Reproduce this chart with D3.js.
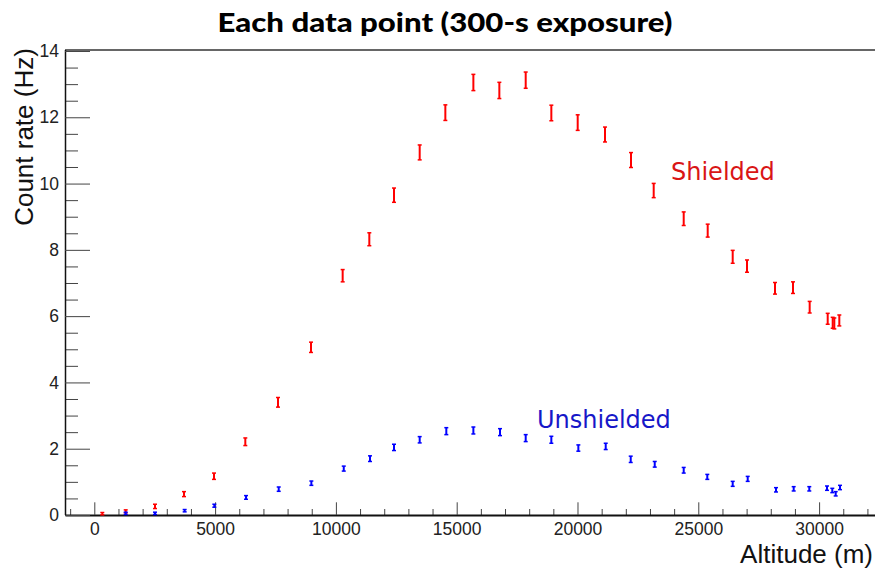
<!DOCTYPE html>
<html>
<head>
<meta charset="utf-8">
<script src="https://cdn.jsdelivr.net/npm/d3@7"></script>
<style>
  body { margin: 0; background: #fff; }
  svg { display: block; }
  .tick text { font-family: "Liberation Sans", Arial, sans-serif; font-size: 17.5px; fill: #222; }
</style>
</head>
<body>
<div id="graph-holder"></div>
<script>
// altitude (m), count rate (Hz) and error (Hz)
var shieldedAlt = [331, 1300, 2512, 3713, 4955, 6250, 7603, 8970, 10280, 11383, 12405,
  13468, 14530, 15690, 16765, 17856, 18917, 20008, 21138, 22215, 23154, 24396, 25389,
  26424, 27016, 28175, 28920, 29610, 30356, 30563, 30630, 30837];
var shieldedRate = [0.04, 0.11, 0.26, 0.63, 1.17, 2.21, 3.40, 5.06, 7.22, 8.32, 9.65,
  10.94, 12.14, 13.05, 12.81, 13.12, 12.13, 11.84, 11.48, 10.71, 9.79, 8.94, 8.58,
  7.79, 7.51, 6.84, 6.86, 6.27, 5.92, 5.80, 5.78, 5.87];
var shieldedErr = [0.02, 0.03, 0.05, 0.06, 0.08, 0.10, 0.13, 0.14, 0.17, 0.18, 0.2,
  0.21, 0.22, 0.23, 0.23, 0.23, 0.22, 0.22, 0.21, 0.21, 0.2, 0.19, 0.18,
  0.18, 0.17, 0.16, 0.16, 0.16, 0.15, 0.15, 0.15, 0.15];

var unshieldedAlt = [1300, 2512, 3740, 4968, 6280, 7633, 8984, 10325, 11412, 12405,
  13468, 14570, 15690, 16793, 17856, 18917, 20035, 21168, 22203, 23197, 24396, 25372,
  26424, 27045, 28216, 28948, 29594, 30327, 30546, 30687, 30865];
var unshieldedRate = [0.05, 0.05, 0.13, 0.28, 0.53, 0.78, 0.96, 1.40, 1.70, 2.04,
  2.27, 2.53, 2.55, 2.50, 2.32, 2.27, 2.02, 2.07, 1.68, 1.53, 1.35, 1.15,
  0.94, 1.09, 0.76, 0.79, 0.79, 0.81, 0.74, 0.64, 0.83];
var unshieldedErr = [0.02, 0.02, 0.02, 0.03, 0.04, 0.05, 0.05, 0.06, 0.07, 0.08,
  0.08, 0.09, 0.09, 0.09, 0.09, 0.09, 0.08, 0.08, 0.08, 0.07, 0.07, 0.06,
  0.06, 0.06, 0.05, 0.05, 0.05, 0.05, 0.05, 0.05, 0.05];

var xMajorTicks = [0, 5000, 10000, 15000, 20000, 25000, 30000];
var yMajorTicks = [0, 2, 4, 6, 8, 10, 12, 14];

var width = 875, height = 569;
var margin = { top: 50, right: 0, bottom: 54, left: 65 };

var svg = d3.select("#graph-holder")
  .append("svg")
  .attr("width", width)
  .attr("height", height);

var x = d3.scaleLinear().domain([-1213, 32314]).range([margin.left, width - margin.right]);
var y = d3.scaleLinear().domain([0, 14.03]).range([height - margin.bottom, margin.top]);

// title
svg.append("text")
  .attr("x", 445)
  .attr("y", 32)
  .attr("text-anchor", "middle")
  .attr("textLength", 455)
  .attr("lengthAdjust", "spacingAndGlyphs")
  .style("font-family", "Lato, 'Open Sans', sans-serif")
  .style("font-weight", "900")
  .style("font-size", "27px")
  .style("fill", "#000")
  .text("Each data point (300-s exposure)");

// top frame line
svg.append("line")
  .attr("x1", margin.left).attr("x2", width)
  .attr("y1", margin.top).attr("y2", margin.top)
  .attr("stroke", "#333").attr("stroke-width", 1.5);

var y0 = height - margin.bottom;

// x minor ticks
var xMinor = d3.range(-1000, 32001, 1000).filter((v) => v % 5000 !== 0);
svg.append("g")
  .attr("transform", "translate(0," + y0 + ")")
  .call(d3.axisBottom(x).tickValues(xMinor).tickSize(-6).tickSizeOuter(0).tickFormat(""))
  .call((g) => g.select(".domain").remove())
  .selectAll("line").attr("stroke", "#444");

// x major ticks + labels
svg.append("g")
  .attr("class", "x axis")
  .attr("transform", "translate(0," + y0 + ")")
  .call(d3.axisBottom(x).tickValues(xMajorTicks).tickSize(-12.7).tickSizeOuter(0)
    .tickPadding(8).tickFormat(d3.format("d")))
  .call((g) => g.select(".domain").attr("stroke", "#111").attr("stroke-width", 2))
  .selectAll("line").attr("stroke", "#444");

// y minor ticks
var yMinor = d3.range(0.5, 14, 0.5).filter((v) => v % 2 !== 0);
svg.append("g")
  .attr("transform", "translate(" + margin.left + ",0)")
  .call(d3.axisLeft(y).tickValues(yMinor).tickSize(-13).tickSizeOuter(0).tickFormat(""))
  .call((g) => g.select(".domain").remove())
  .selectAll("line").attr("stroke", "#444");

// y major ticks + labels
svg.append("g")
  .attr("class", "y axis")
  .attr("transform", "translate(" + margin.left + ",0)")
  .call(d3.axisLeft(y).tickValues(yMajorTicks).tickSize(-25).tickSizeOuter(0).tickPadding(6))
  .call((g) => g.select(".domain").attr("stroke", "#111").attr("stroke-width", 1.5)
    .attr("d", "M0.5," + margin.top + "V" + y0))
  .selectAll("line").attr("stroke", "#444");

// axis titles
svg.append("text")
  .attr("transform", "translate(33," + 137 + ") rotate(-90)")
  .attr("text-anchor", "middle")
  .style("font-family", "'Liberation Sans', Arial, sans-serif")
  .style("font-size", "26px")
  .style("fill", "#111")
  .text("Count rate (Hz)");

svg.append("text")
  .attr("x", 873)
  .attr("y", 563)
  .attr("text-anchor", "end")
  .style("font-family", "'Liberation Sans', Arial, sans-serif")
  .style("font-size", "26px")
  .style("fill", "#111")
  .text("Altitude (m)");

// error bar points
function drawPoints(alt, rate, err, color) {
  var data = alt.map((a, i) => ({ a: a, r: rate[i], e: err[i] }));
  var g = svg.append("g");
  var pts = g.selectAll("g.pt").data(data).enter().append("g").attr("class", "pt");
  pts.append("line")
    .attr("x1", (d) => x(d.a)).attr("x2", (d) => x(d.a))
    .attr("y1", (d) => y(d.r + d.e) - 0.5).attr("y2", (d) => y(d.r - d.e) + 0.5)
    .attr("stroke", color).attr("stroke-width", 2);
  [1, -1].forEach(function(s) {
    pts.append("line")
      .attr("x1", (d) => x(d.a) - 2).attr("x2", (d) => x(d.a) + 2)
      .attr("y1", (d) => y(d.r + s * d.e) - s * 0.5)
      .attr("y2", (d) => y(d.r + s * d.e) - s * 0.5)
      .attr("stroke", color).attr("stroke-width", 1.5);
  });
}

drawPoints(shieldedAlt, shieldedRate, shieldedErr, "#ff0000");
drawPoints(unshieldedAlt, unshieldedRate, unshieldedErr, "#0000ff");

// series labels
svg.append("text")
  .attr("x", 671).attr("y", 180)
  .style("font-family", "'DejaVu Sans', sans-serif")
  .style("font-size", "24px")
  .style("fill", "#d91515")
  .text("Shielded");

svg.append("text")
  .attr("x", 537).attr("y", 428)
  .style("font-family", "'DejaVu Sans', sans-serif")
  .style("font-size", "24px")
  .style("fill", "#1717c8")
  .text("Unshielded");
</script>
</body>
</html>
